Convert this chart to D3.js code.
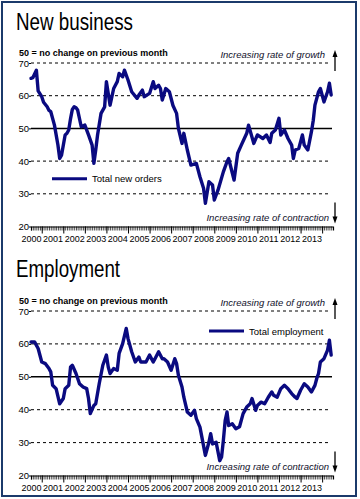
<!DOCTYPE html>
<html><head><meta charset="utf-8">
<script src="https://cdn.jsdelivr.net/npm/d3@7"></script>
<style>
html,body{margin:0;padding:0;background:#fff;}
svg{display:block;}
</style></head>
<body>
<script>
// ---- Data (month index from Jan 2000, index value) ----
const yTickValues = [20, 30, 40, 50, 60, 70];
const yearLabels = [2000,2001,2002,2003,2004,2005,2006,2007,2008,2009,2010,2011,2012,2013];

const newBusinessMonths = [0,1,3,4,6,7,9,10,11,13,15,16,17,19,20,21,22,23,24,25,26,28,30,32,34,35,36,37,39,41,42,44,46,48,49,51,52,54,56,59,60,62,63,66,68,69,71,72,73,75,77,79,81,82,84,85,87,89,92,94,96,97,99,101,102,104,107,109,110,113,115,117,120,121,124,126,129,131,133,134,136,138,139,141,143,145,146,147,149,151,152,154,156,157,158,160,161,163,165,166,167];
const newBusinessValues = [65.3,65.5,67.8,61.5,59.7,58,56.6,55.5,55.1,51,44.9,40.8,41.8,48,48.5,49.5,53,55.8,56.6,56.3,55.6,50.5,51,48,44.9,39.3,43.4,48,54.6,56.6,64.3,57.1,62.2,64.3,66.8,65.8,67.8,64.8,61.2,59.2,60.2,61.7,59.7,60.7,64.3,62.2,63.2,62.2,58.7,62.2,61.2,57,54.6,50,45.4,48.5,43.4,38.8,39.3,35.2,31.7,27.1,33.7,32.7,28.1,31.1,36.7,39.8,40.8,34.2,42.4,44.9,48.5,51,45.4,48,46.9,48,45.7,48.5,49.5,53.1,48,49.5,46.9,44.9,40.8,43.4,43.9,48,44.9,43.4,49,52.5,57.1,61.2,62.2,58.1,61.2,63.8,60.2];

const employmentMonths = [0,2,4,6,8,10,11,12,14,16,18,19,21,22,23,25,27,29,31,32,33,35,36,38,40,42,43,44,46,48,49,51,53,54,56,58,60,61,64,66,68,69,71,73,74,76,78,80,81,82,84,85,87,89,91,92,94,97,99,100,101,103,105,106,107,108,109,110,112,114,116,118,120,122,123,125,126,128,130,132,134,135,137,139,141,143,145,147,148,150,152,154,156,158,159,160,161,163,165,166,167];
const employmentValues = [60.6,60.6,58.6,54.5,54,52.5,51.5,47.4,46.4,41.8,43.4,46.4,47.4,53,53.5,51,47.9,46.9,46.4,43.4,38.8,41.3,41.8,47.9,53.5,56.6,53,51,52.5,52,57.1,60.1,64.7,61.6,57.6,54.5,56,54.5,54.5,56.6,54.5,55.5,57.6,55.5,55.5,54.5,52,55.5,54,50.5,46.9,43.8,39.3,38.3,39.8,37.3,34.7,26.1,30.1,32.7,29.6,30.1,24.5,25.6,30.6,36.7,39.3,35.2,35.7,34.2,34.8,38.8,40.8,41.8,43.4,39.8,41.3,42.3,41.8,43.8,45.4,44.4,43.8,46.4,47.4,46.4,44.9,43.8,43.4,45.9,47.9,46.9,45.4,47.4,49.5,51,54.5,55.5,58.1,61.1,56.6];

const W = 360, H = 499;
const lineColor = "#0a0a80";
const svg = d3.select("body").append("svg").attr("width", W).attr("height", H);

// frame
svg.append("rect").attr("x", 2).attr("y", 2).attr("width", 354).attr("height", 494)
  .attr("fill", "#fff").attr("stroke", "#1b3a6b").attr("stroke-width", 2);

const x = d3.scaleTime().domain([new Date(2000,0,1), new Date(2014,0,1)]).range([31, 333]);

function panel(opt) {
  const g = svg.append("g");
  const y = d3.scaleLinear().domain([20, 70]).range([opt.bottom, opt.top]);

  g.append("text").attr("x", 16).attr("y", opt.titleY)
    .attr("font-family", "'Liberation Sans',Arial,sans-serif")
    .attr("font-size", 23).attr("fill", "#000")
    .attr("textLength", opt.titleW).attr("lengthAdjust", "spacingAndGlyphs")
    .text(opt.title);

  g.append("text").attr("x", 19).attr("y", opt.top - 7)
    .attr("font-family", "'Liberation Sans',Arial,sans-serif").attr("font-weight", "bold")
    .attr("font-size", 9).attr("fill", "#000").text("50 = no change on previous month");

  // gridlines
  g.selectAll("line.grid").data(yTickValues.filter(v => v !== 20 && v !== 50)).join("line")
    .attr("x1", 31).attr("x2", 330).attr("y1", d => y(d)).attr("y2", d => y(d))
    .attr("stroke", "#000").attr("stroke-width", 1).attr("stroke-dasharray", "3,3");

  // y labels
  const yAxis = d3.axisLeft(y).tickValues(yTickValues).tickSize(2).tickFormat(d3.format("d"));
  const ya = g.append("g").attr("transform", "translate(31,0)").call(yAxis);
  ya.select(".domain").remove();
  ya.selectAll("text").attr("font-family", "'Liberation Sans',Arial,sans-serif").attr("font-size", 9.5).attr("fill", "#000").attr("x", -2);
  ya.selectAll("line").attr("stroke", "#000");

  // baseline 50
  g.append("line").attr("x1", 31).attr("x2", 332).attr("y1", y(50)).attr("y2", y(50))
    .attr("stroke", "#000").attr("stroke-width", 1.5);

  // x axis: minor monthly ticks
  const minor = d3.axisBottom(x).tickValues(d3.timeMonth.range(new Date(2000,0,1), new Date(2014,0,1))).tickSize(4).tickFormat("");
  const xm = g.append("g").attr("transform", `translate(0,${opt.bottom})`).call(minor);
  xm.selectAll("line").attr("stroke", "#000").attr("stroke-width", 0.7);
  xm.select(".domain").attr("stroke", "#000").attr("stroke-width", 1.2);
  // major ticks
  const major = d3.axisBottom(x).tickValues(yearLabels.map(yr => new Date(yr,6,1))).tickSize(7).tickFormat("");
  const xj = g.append("g").attr("transform", `translate(0,${opt.bottom})`).call(major);
  xj.select(".domain").remove();
  xj.selectAll("line").attr("stroke", "#000").attr("stroke-width", 1);
  // labels
  const lab = d3.axisBottom(x).tickValues(yearLabels.map(yr => new Date(yr,0,1))).tickSize(0).tickPadding(9).tickFormat(d3.timeFormat("%Y"));
  const xl = g.append("g").attr("transform", `translate(0,${opt.bottom})`).call(lab);
  xl.select(".domain").remove();
  xl.selectAll("text").attr("font-family", "'Liberation Sans',Arial,sans-serif").attr("font-size", 9).attr("fill", "#000");

  // series line
  const pts = opt.months.map((m, i) => ({ d: new Date(2000, m, 1), v: opt.values[i] }));
  g.append("path").datum(pts)
    .attr("fill", "none").attr("stroke", lineColor).attr("stroke-width", 3.4)
    .attr("stroke-linejoin", "round").attr("stroke-linecap", "round")
    .attr("d", d3.line().x(p => x(p.d)).y(p => y(p.v)));

  // legend
  g.append("line").attr("x1", opt.legX).attr("x2", opt.legX + 35).attr("y1", opt.legY).attr("y2", opt.legY)
    .attr("stroke", lineColor).attr("stroke-width", 3);
  g.append("text").attr("x", opt.legX + 40).attr("y", opt.legY + 3.5)
    .attr("font-family", "'Liberation Sans',Arial,sans-serif").attr("font-size", 9.5).attr("fill", "#000").text(opt.legend);

  // annotations
  const it = { "font-family": "'Liberation Sans',Arial,sans-serif", "font-style": "italic", "font-size": 9.5, "fill": "#10102a" };
  const t1 = g.append("text").attr("x", 325).attr("y", opt.top - 5).attr("text-anchor", "end").text("Increasing rate of growth");
  const t2 = g.append("text").attr("x", 329).attr("y", opt.bottom - 6).attr("text-anchor", "end").text("Increasing rate of contraction");
  [t1, t2].forEach(t => Object.entries(it).forEach(([k, v]) => t.attr(k, v)));

  // arrows
  const ax = 335;
  g.append("line").attr("x1", ax).attr("x2", ax).attr("y1", opt.top + 8).attr("y2", opt.top - 8).attr("stroke", "#000").attr("stroke-width", 1.3);
  g.append("path").attr("d", `M${ax-2.5},${opt.top-6} L${ax},${opt.top-13} L${ax+2.5},${opt.top-6} Z`).attr("fill", "#000");
  g.append("line").attr("x1", ax).attr("x2", ax).attr("y1", opt.bottom - 24).attr("y2", opt.bottom - 8).attr("stroke", "#000").attr("stroke-width", 1.3);
  g.append("path").attr("d", `M${ax-2.5},${opt.bottom-10} L${ax},${opt.bottom-3} L${ax+2.5},${opt.bottom-10} Z`).attr("fill", "#000");
}

panel({ title: "New business", titleY: 30, titleW: 117, top: 63, bottom: 226.5,
  months: newBusinessMonths, values: newBusinessValues,
  legend: "Total new orders", legX: 52, legY: 178.7 });
panel({ title: "Employment", titleY: 277, titleW: 104, top: 311, bottom: 475.5,
  months: employmentMonths, values: employmentValues,
  legend: "Total employment", legX: 209, legY: 331 });
</script>
</body></html>
